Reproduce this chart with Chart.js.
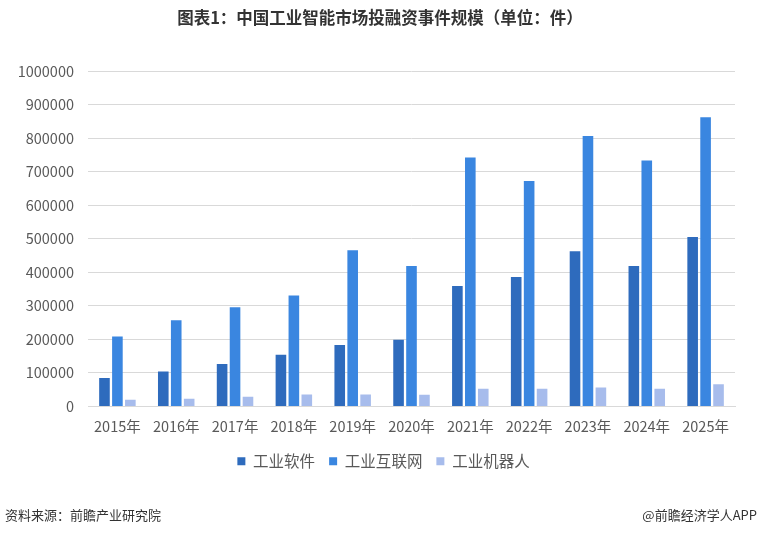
<!DOCTYPE html>
<html>
<head>
<meta charset="utf-8">
<script src="https://cdn.jsdelivr.net/npm/chart.js@4/dist/chart.umd.min.js"></script>
<style>
  html, body { margin: 0; padding: 0; background: #fff; }
  #wrap { position: relative; width: 760px; height: 535px; overflow: hidden; font-family: "Noto Sans CJK SC", sans-serif; }
  #title { position: absolute; left: 0; top: 5px; width: 760px; text-align: center; font-size: 16.5px; font-weight: bold; color: #333; }
  #src { position: absolute; left: 5px; top: 505px; font-size: 13px; color: #333; }
  #app { position: absolute; right: 3px; top: 505px; font-size: 13px; color: #333; }
  canvas { position: absolute; left: 0; top: 0; }
</style>
</head>
<body>
<div id="wrap">
  <canvas id="c" width="760" height="535"></canvas>
  <div id="title">图表1：中国工业智能市场投融资事件规模（单位：件）</div>
  <div id="src">资料来源：前瞻产业研究院</div>
  <div id="app">@前瞻经济学人APP</div>
</div>
<script>
const categories = ["2015年","2016年","2017年","2018年","2019年","2020年","2021年","2022年","2023年","2024年","2025年"];
const seriesNames = ["工业软件","工业互联网","工业机器人"];
const software = [85000, 104000, 127000, 154000, 183000, 199000, 359000, 386000, 463000, 419000, 505000];
const internet = [209000, 257000, 296000, 331000, 466000, 419000, 742000, 672000, 806000, 733000, 862000];
const robots = [20000, 23000, 29000, 36000, 36000, 35000, 53000, 53000, 57000, 53000, 66000];
const yTicks = [0,100000,200000,300000,400000,500000,600000,700000,800000,900000,1000000];

const colors = ["#2E6BBD", "#3A86E0", "#A7BCEC"];
const font = "'Microsoft YaHei', 'Noto Sans CJK SC', sans-serif";

const shiftLegend = {
  id: 'shiftLegend',
  afterLayout(chart) {
    const lg = chart.legend;
    if (lg) { lg.left += 16; lg.right += 16; }
  }
};

new Chart(document.getElementById('c'), {
  type: 'bar',
  data: {
    labels: categories,
    datasets: [
      { label: seriesNames[0], data: software, backgroundColor: colors[0] },
      { label: seriesNames[1], data: internet, backgroundColor: colors[1] },
      { label: seriesNames[2], data: robots, backgroundColor: colors[2] }
    ]
  },
  plugins: [shiftLegend],
  options: {
    responsive: false,
    animation: false,
    devicePixelRatio: 1,
    datasets: { bar: { categoryPercentage: 0.66, barPercentage: 0.82 } },
    layout: { padding: { top: 71, right: 25, left: 0, bottom: 56 } },
    plugins: {
      title: { display: false },
      tooltip: { enabled: false },
      legend: {
        position: 'bottom',
        labels: {
          boxWidth: 8, boxHeight: 8, padding: 14,
          color: '#595959',
          font: { family: font, size: 15.5 }
        }
      }
    },
    scales: {
      x: {
        grid: { display: false, drawTicks: false },
        border: { display: true, color: '#d9d9d9' },
        ticks: { color: '#595959', padding: 11, font: { family: font, size: 14.5 }, maxRotation: 0 },
        afterFit(s) { s.height = 33; }
      },
      y: {
        min: 0, max: 1000000,
        afterBuildTicks(s) { s.ticks = yTicks.map(v => ({ value: v })); },
        grid: { color: '#d9d9d9', drawTicks: false },
        border: { display: false },
        ticks: { color: '#595959', padding: 14, font: { family: font, size: 14.5 }, callback: v => String(v) },
        afterFit(s) { s.width = 88; }
      }
    }
  }
});
</script>
</body>
</html>
